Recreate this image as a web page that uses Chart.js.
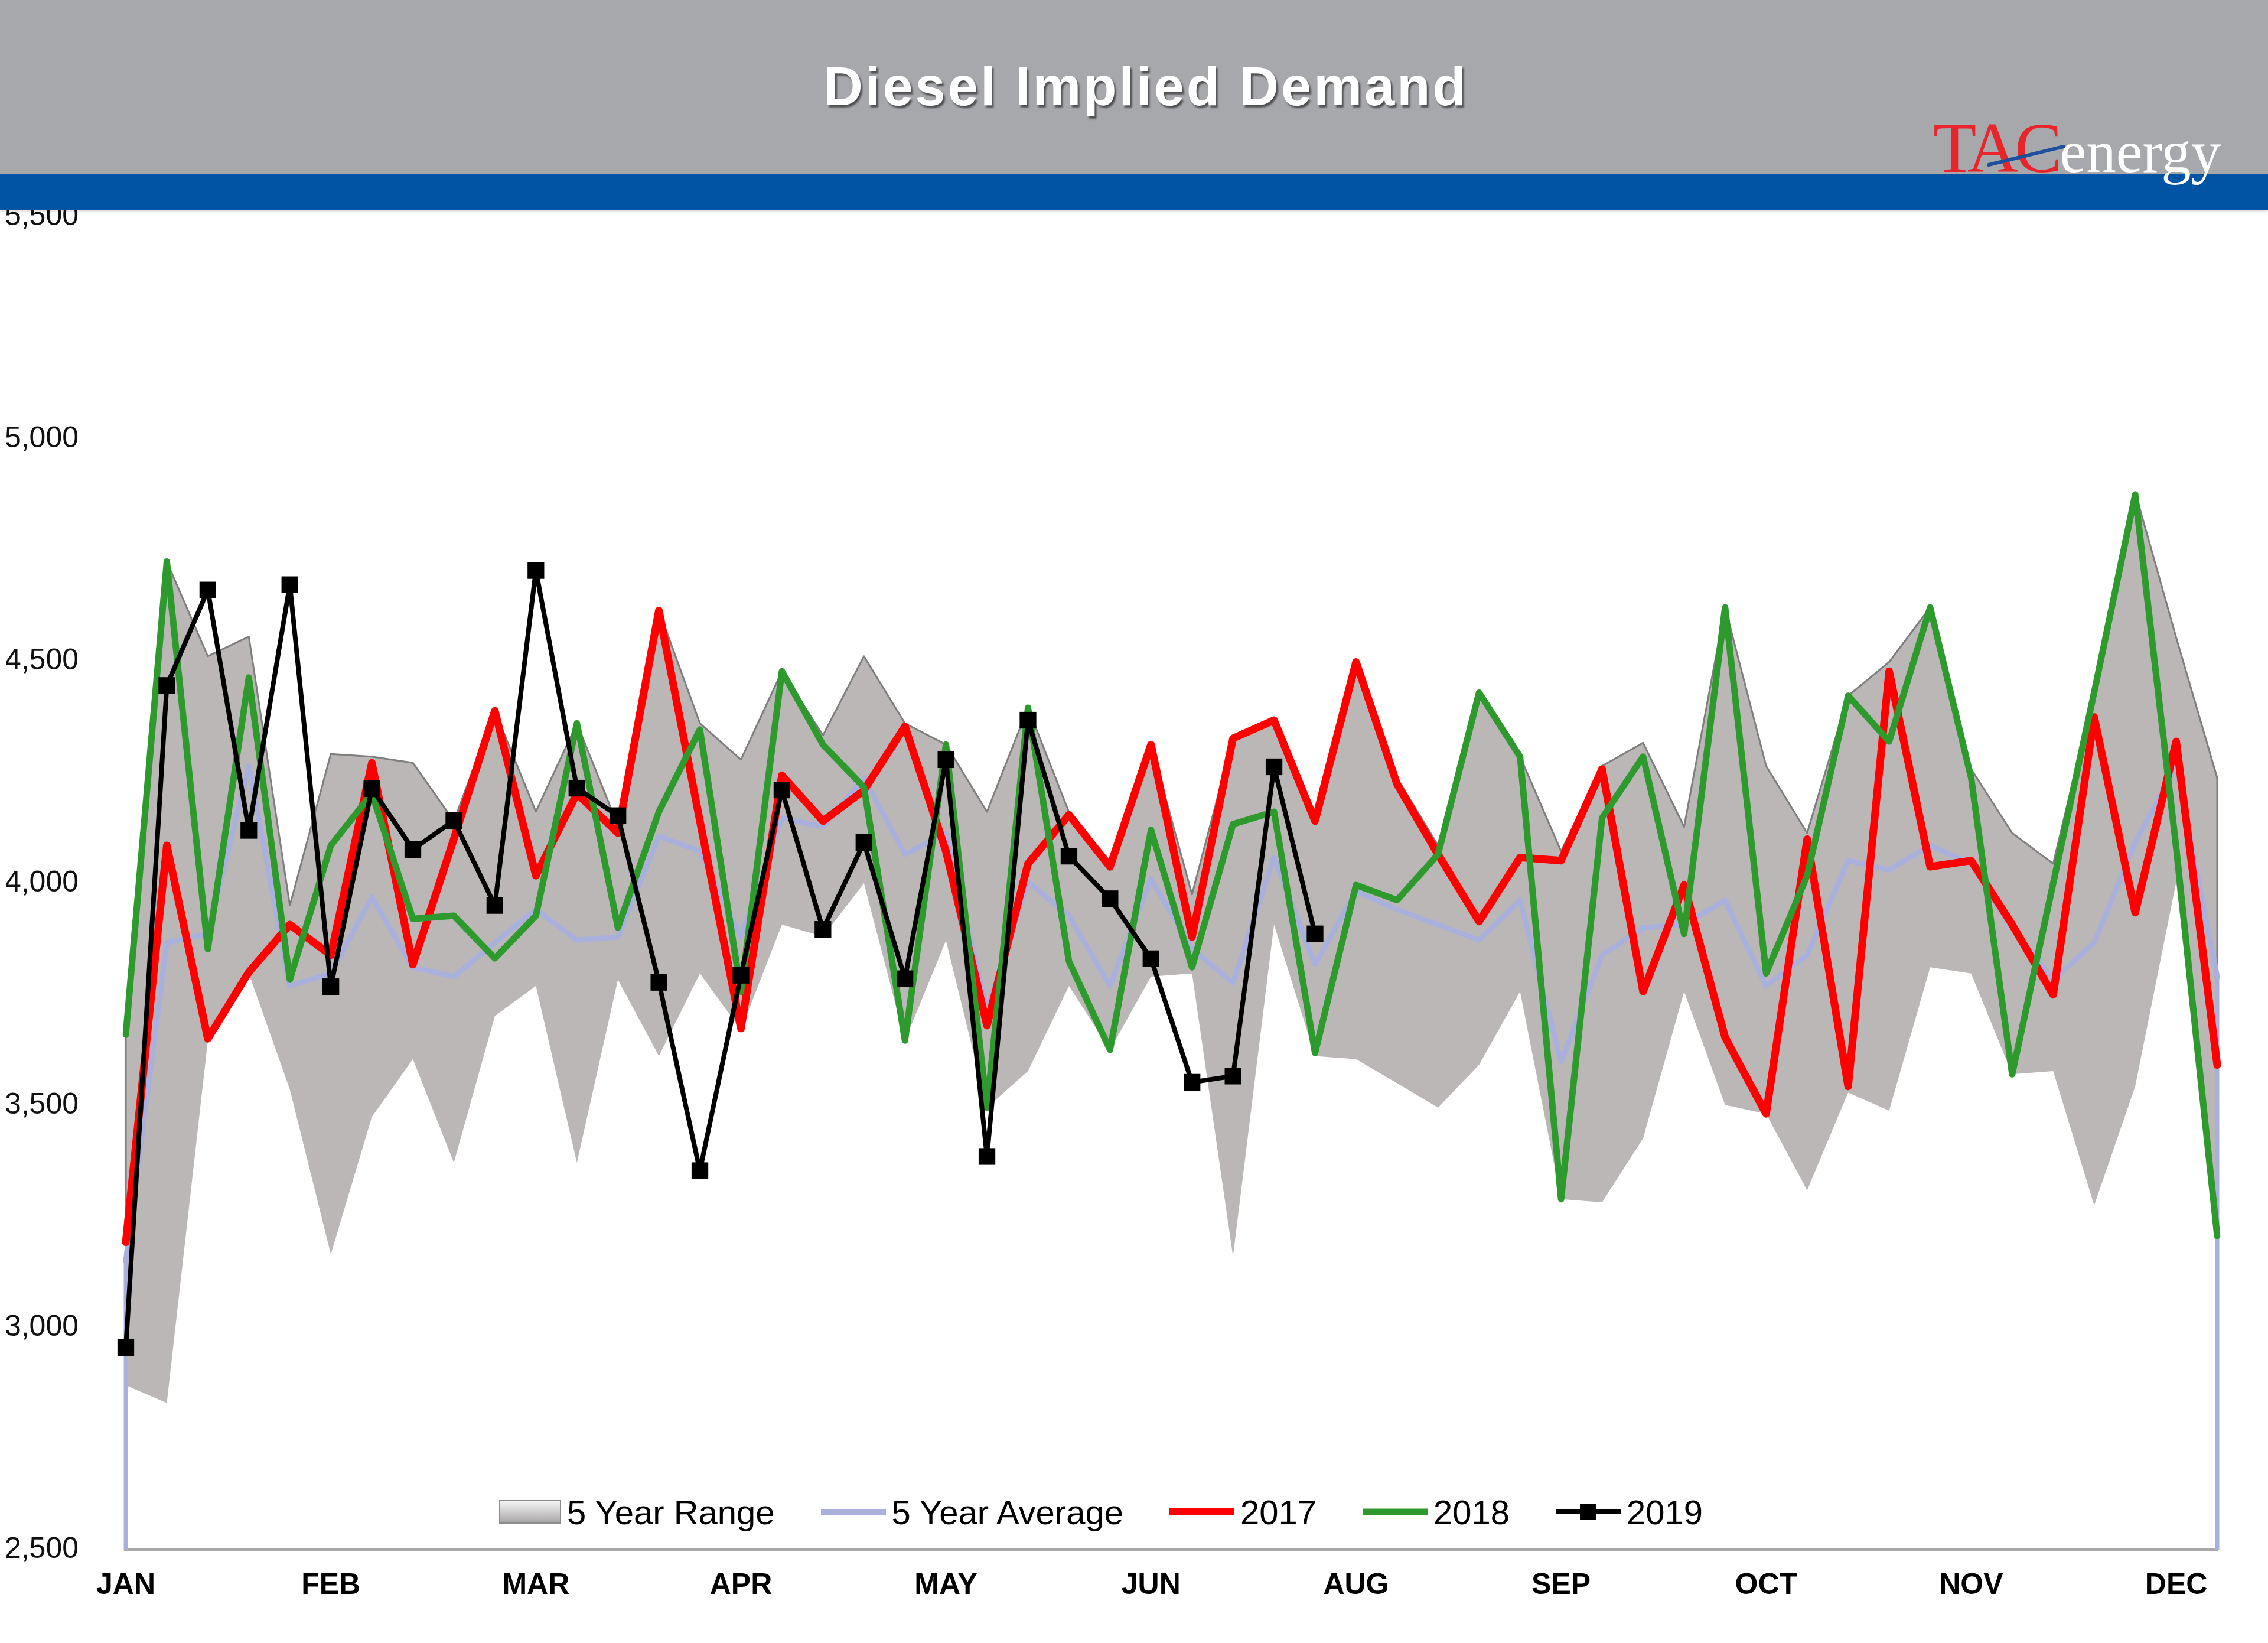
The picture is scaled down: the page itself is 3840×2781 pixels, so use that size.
<!DOCTYPE html>
<html>
<head>
<meta charset="utf-8">
<title>Diesel Implied Demand</title>
<script src="https://cdn.jsdelivr.net/npm/chart.js@4.4.1/dist/chart.umd.min.js"></script>
<style>
  html, body { margin: 0; padding: 0; background: #fff; }
  #page { position: relative; width: 3840px; height: 2781px; overflow: hidden; background: #fff;
          font-family: "Liberation Sans", Arial, sans-serif; }
  #chart { position: absolute; left: 0; top: 0; }
  #header { position: absolute; left: 0; top: 0; width: 3840px; height: 294px; background: #a7a8ac; }
  #band { position: absolute; left: 0; top: 294px; width: 3840px; height: 61px; background: #0153a3;
          box-shadow: 0 3px 4px rgba(0,0,0,0.15); }
  #title { position: absolute; left: 20px; top: 100px; width: 3840px; text-align: center;
           font-size: 92px; line-height: 1; font-weight: bold; letter-spacing: 4px; color: #fff;
           text-shadow: 3px 4px 3px rgba(50,50,50,0.75); }
  #logo { position: absolute; left: 3273px; top: 191px; line-height: 1; font-size: 120px;
          font-family: "Liberation Serif", "Times New Roman", serif; white-space: nowrap; }
  #logo .tac { color: #e8252b; letter-spacing: -6px; }
  #logo .en { color: #fff; font-size: 101px; margin-left: 2px; }
  #swoosh { position: absolute; left: 0; top: 0; }
  #legend { position: absolute; left: 845px; top: 2524px; height: 70px; display: flex; align-items: center;
            font-size: 58px; color: #000; white-space: nowrap; }
  .item { display: flex; align-items: center; margin-right: 78px; }
  .item span.txt { margin-left: 10px; }
  .icon { position: relative; width: 110px; height: 40px; }
  .icon.range { width: 105px; height: 40px; box-sizing: border-box; border: 2px solid #8c8c8c;
                background: linear-gradient(#f4f4f4, #c8c6c6 60%, #a8a6a6); }
  .icon .ln { position: absolute; left: 0; right: 0; top: 50%; transform: translateY(-50%); }
  .icon .mk { position: absolute; left: 41px; top: 6px; width: 28px; height: 28px; background: #000; }
</style>
</head>
<body>
<div id="page">
  <canvas id="chart" width="3840" height="2781"></canvas>
  <div id="header"></div>
  <div id="band"></div>
  <div id="title">Diesel Implied Demand</div>
  <div id="logo"><span class="tac">TAC</span><span class="en">energy</span></div>
  <svg id="swoosh" width="3840" height="400">
    <line x1="3367" y1="279" x2="3494" y2="248" stroke="#1d4f9e" stroke-width="6" stroke-linecap="round"/>
  </svg>
  <div id="legend"></div>
</div>

<script>
// ── DATA ─────────────────────────────────────────────────────
const weeks = [1,2,3,4,5,6,7,8,9,10,11,12,13,14,15,16,17,18,19,20,21,22,23,24,25,26,
               27,28,29,30,31,32,33,34,35,36,37,38,39,40,41,42,43,44,45,46,47,48,49,50,51,52];
const monthTicks = ['JAN','FEB','MAR','APR','MAY','JUN','AUG','SEP','OCT','NOV','DEC'];
const yTicks = [2500, 3000, 3500, 4000, 4500, 5000, 5500];

const rangeLow = [2870, 2830, 3645, 3797, 3536, 3165, 3474, 3604, 3371, 3701,
                  3769, 3371, 3783, 3611, 3797, 3670, 3907, 3880, 4000, 3646,
                  3871, 3495, 3577, 3769, 3625, 3790, 3797, 3160, 3907, 3611,
                  3604, 3550, 3495, 3591, 3756, 3289, 3282, 3426, 3756, 3501,
                  3481, 3309, 3529, 3488, 3811, 3797, 3570, 3577, 3275, 3543,
                  4003, 3206];
const rangeHigh = [3660, 4724, 4511, 4555, 3950, 4291, 4285, 4271, 4140, 4388,
                   4161, 4360, 4130, 4614, 4360, 4278, 4477, 4333, 4511, 4360,
                   4312, 4161, 4395, 4160, 4050, 4312, 3975, 4326, 4367, 4147,
                   4498, 4237, 4085, 4429, 4285, 4072, 4264, 4316, 4127, 4621,
                   4264, 4113, 4422, 4498, 4621, 4257, 4113, 4044, 4430, 4880,
                   4553, 4237];
const avg5y = [3150, 3866, 3886, 4264, 3769, 3797, 3969, 3811, 3790, 3866,
               3941, 3872, 3879, 4106, 4072, 3879, 4147, 4127, 4237, 4065,
               4113, 3714, 4003, 3927, 3769, 4010, 3852, 3776, 4058, 3817,
               3982, 3941, 3907, 3872, 3962, 3598, 3838, 3900, 3907, 3962,
               3769, 3838, 4051, 4030, 4085, 4044, 3900, 3783, 3866, 4092,
               4264, 3790];
const y2017 = [3192, 4085, 3650, 3800, 3907, 3838, 4271, 3817, 4100, 4388,
               4017, 4202, 4113, 4614, 4140, 3673, 4243, 4140, 4209, 4353,
               4072, 3680, 4044, 4154, 4037, 4312, 3879, 4326, 4367, 4140,
               4498, 4223, 4065, 3914, 4058, 4051, 4257, 3756, 3996, 3653,
               3481, 4099, 3543, 4477, 4037, 4051, 3907, 3749, 4374, 3934,
               4319, 3591];
const y2018 = [3659, 4724, 3852, 4463, 3783, 4085, 4202, 3920, 3927, 3831,
               3927, 4360, 3900, 4161, 4346, 3756, 4477, 4312, 4216, 3646,
               4312, 3495, 4395, 3824, 3625, 4120, 3811, 4133, 4161, 3618,
               3996, 3962, 4065, 4429, 4285, 3289, 4147, 4285, 3886, 4621,
               3797, 4017, 4422, 4319, 4621, 4237, 3570, 4000, 4430, 4875,
               4080, 3206];
const y2019 = [2955, 4445, 4660, 4119, 4672, 3767, 4213, 4076, 4141, 3950,
               4704, 4214, 4152, 3777, 3353, 3793, 4210, 3896, 4092, 3785,
               4278, 3385, 4367, 4061, 3965, 3830, 3552, 3566, 4262, 3886,
               null, null, null, null, null, null, null, null, null, null,
               null, null, null, null, null, null, null, null, null, null,
               null, null];

// ── STYLE ────────────────────────────────────────────────────
const RANGE_FILL = '#bbb7b7';
const RANGE_EDGE = '#7e7e7e';
const AVG_COLOR  = '#aab0dc';
const RED        = '#ff0000';
const GREEN      = '#2e9a2e';
const FONT       = "'Liberation Sans', Arial, sans-serif";

// ── LEGEND (html) ────────────────────────────────────────────
const legendItems = [
  { label: '5 Year Range',   kind: 'range' },
  { label: '5 Year Average', kind: 'line', color: AVG_COLOR, w: 10 },
  { label: '2017',           kind: 'line', color: RED,   w: 12 },
  { label: '2018',           kind: 'line', color: GREEN, w: 11 },
  { label: '2019',           kind: 'marker', color: '#000', w: 8 },
];
const legendEl = document.getElementById('legend');
legendItems.forEach(it => {
  const item = document.createElement('div');
  item.className = 'item';
  let icon;
  if (it.kind === 'range') {
    icon = '<div class="icon range"></div>';
  } else {
    icon = `<div class="icon"><div class="ln" style="height:${it.w}px;background:${it.color}"></div>` +
           (it.kind === 'marker' ? '<div class="mk"></div>' : '') + '</div>';
  }
  item.innerHTML = icon + `<span class="txt">${it.label}</span>`;
  legendEl.appendChild(item);
});

// ── EDGE LINES (ends of range / average) ─────────────────────
const edgeLines = {
  id: 'edgeLines',
  afterDatasetDraw(chart, args) {
    const { ctx, scales: { x, y } } = chart;
    const last = weeks.length - 1;
    if (args.index === 1) {
      ctx.save();
      ctx.strokeStyle = RANGE_EDGE;
      ctx.lineWidth = 3;
      [0, last].forEach(i => {
        const px = x.getPixelForValue(i);
        ctx.beginPath();
        ctx.moveTo(px, y.getPixelForValue(rangeHigh[i]));
        ctx.lineTo(px, y.getPixelForValue(rangeLow[i]));
        ctx.stroke();
      });
      ctx.restore();
    }
    if (args.index === 2) {
      ctx.save();
      ctx.strokeStyle = AVG_COLOR;
      ctx.lineWidth = 7;
      [0, last].forEach(i => {
        const px = x.getPixelForValue(i);
        ctx.beginPath();
        ctx.moveTo(px, y.getPixelForValue(avg5y[i]));
        ctx.lineTo(px, y.bottom);
        ctx.stroke();
      });
      ctx.restore();
    }
  }
};

// ── CHART ────────────────────────────────────────────────────
const ctx = document.getElementById('chart');
new Chart(ctx, {
  type: 'line',
  data: {
    labels: weeks,
    datasets: [
      { label: 'low', data: rangeLow, borderWidth: 0, borderColor: 'rgba(0,0,0,0)',
        pointRadius: 0, fill: false, order: 6 },
      { label: '5 Year Range', data: rangeHigh, borderWidth: 3, borderColor: RANGE_EDGE,
        backgroundColor: RANGE_FILL, pointRadius: 0, fill: '-1', order: 5 },
      { label: '5 Year Average', data: avg5y, borderWidth: 9, borderColor: AVG_COLOR,
        pointRadius: 0, fill: false, order: 4 },
      { label: '2017', data: y2017, borderWidth: 13, borderColor: RED,
        pointRadius: 0, fill: false, order: 3 },
      { label: '2018', data: y2018, borderWidth: 11, borderColor: GREEN,
        pointRadius: 0, fill: false, order: 2 },
      { label: '2019', data: y2019, borderWidth: 8, borderColor: '#000',
        pointStyle: 'rect', pointRadius: 20, pointBackgroundColor: '#000', pointBorderWidth: 0,
        fill: false, order: 1, spanGaps: false },
    ]
  },
  options: {
    responsive: false,
    devicePixelRatio: 1,
    animation: false,
    events: [],
    layout: { padding: { left: 10, right: 86, top: 367, bottom: 0 } },
    elements: { line: { tension: 0, borderJoinStyle: 'round', borderCapStyle: 'round' } },
    plugins: {
      legend: { display: false },
      tooltip: { enabled: false },
    },
    scales: {
      x: {
        offset: false,
        grid: { display: false, drawTicks: false },
        border: { display: true, color: '#a9a9a9', width: 6 },
        ticks: {
          autoSkip: false, maxRotation: 0, minRotation: 0, padding: 31,
          color: '#000', font: { family: FONT, size: 50, weight: 'bold' },
          callback: (v, i) => (i % 5 === 0 ? monthTicks[i / 5] : '')
        },
        afterFit: s => { s.height = 158; }
      },
      y: {
        min: yTicks[0], max: yTicks[yTicks.length - 1],
        afterBuildTicks: s => { s.ticks = yTicks.map(v => ({ value: v })); },
        grid: { display: false, drawTicks: false },
        border: { display: false },
        ticks: {
          padding: 80, color: '#111', font: { family: FONT, size: 50 },
          callback: v => v.toLocaleString('en-US')
        },
        afterFit: s => { s.width = 203; }
      }
    }
  },
  plugins: [edgeLines]
});
</script>
</body>
</html>
